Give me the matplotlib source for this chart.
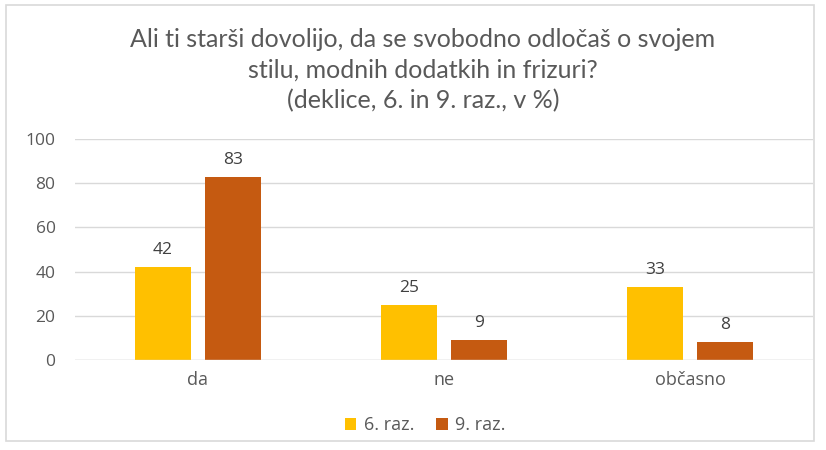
import numpy as np
import matplotlib.pyplot as plt
from matplotlib.patches import Rectangle

plt.rcParams['font.family'] = ['Open Sans', 'DejaVu Sans']

categories = ["da", "ne", "občasno"]
series_names = ["6. raz.", "9. raz."]
values_6 = [42, 25, 33]
values_9 = [83, 9, 8]
colors = ["#FFC000", "#C55A11"]
title = "Ali ti starši dovolijo, da se svobodno odločaš o svojem\nstilu, modnih dodatkih in frizuri?\n(deklice, 6. in 9. raz., v %)"

fig = plt.figure(figsize=(8.26, 4.5), dpi=100)
ax = fig.add_axes([75 / 826, 1 - 360 / 450, 738 / 826, 221 / 450])

x = np.arange(len(categories))
w = 0.227
gap = 0.06
b1 = ax.bar(x - (w + gap) / 2, values_6, w, color=colors[0], label=series_names[0])
b2 = ax.bar(x + (w + gap) / 2, values_9, w, color=colors[1], label=series_names[1])

for bars in (b1, b2):
    for r in bars:
        ax.text(r.get_x() + r.get_width() / 2, r.get_height() + 4, str(int(r.get_height())),
                ha="center", va="bottom", fontsize=12.5, color="#404040")

ax.set_xlim(-0.5, 2.5)
ax.set_ylim(0, 100)
ax.set_yticks(range(0, 101, 20))
ax.set_xticks(x)
ax.set_xticklabels(categories, fontsize=13)
ax.tick_params(axis="both", length=0, labelcolor="#595959")
ax.tick_params(axis="y", pad=14, labelsize=12.5)
ax.tick_params(axis="x", pad=8)
ax.grid(axis="y", color="#D9D9D9", linewidth=1)
ax.set_axisbelow(True)
for s in ax.spines.values():
    s.set_visible(False)
ax.axhline(0, color="#D9D9D9", linewidth=1)

fig.text(423 / 826, 1 - 70 / 450, title, ha="center", va="center", fontsize=18,
         color="#595959", linespacing=1.4, family=["Lato", "DejaVu Sans"])

fig.legend(loc="center", bbox_to_anchor=(425 / 826, 1 - 425 / 450), ncol=2, frameon=False,
           fontsize=13, handlelength=0.65, handleheight=0.65, columnspacing=1.2,
           handletextpad=0.4, labelcolor="#595959")

fig.patches.append(Rectangle((6 / 826, 1 - 441 / 450), 808 / 826, 436 / 450,
                             transform=fig.transFigure, fill=False, edgecolor="#D9D9D9", linewidth=1.2))

fig.savefig("out.png", dpi=100)
